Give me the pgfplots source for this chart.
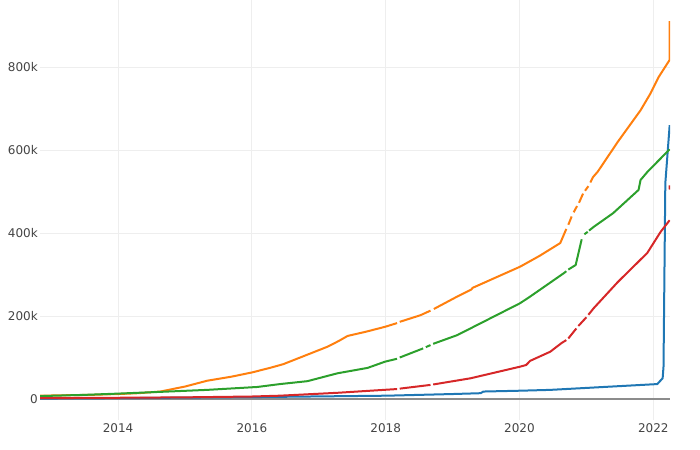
\documentclass[border=0pt]{standalone}
\usepackage{fontspec}
\setmainfont{DejaVu Sans}
\usepackage{pgfplots}
\pgfplotsset{compat=1.18}
\definecolor{pblue}{HTML}{1F77B4}
\definecolor{porange}{HTML}{FF7F0E}
\definecolor{pgreen}{HTML}{2CA02C}
\definecolor{pred}{HTML}{D62728}
\definecolor{gridc}{HTML}{EEEEEE}
\definecolor{zeroc}{HTML}{8C8C8C}
\definecolor{labelc}{HTML}{444444}
\begin{document}
\begin{tikzpicture}
\path[use as bounding box] (0,0) rectangle (700bp,450bp);
\begin{axis}[
  at={(40bp,30bp)}, anchor=south west,
  scale only axis, width=630bp, height=420bp,
  xmin=2012.833, xmax=2022.25, ymin=-50.6, ymax=961.8,
  axis line style={draw=none},
  major tick length=0pt,
  grid=major, major grid style={draw=gridc, line width=1bp},
  xtick={2014,2016,2018,2020,2022}, xticklabels={2014,2016,2018,2020,2022},
  ytick={0,200,400,600,800}, yticklabels={0,200k,400k,600k,800k},
  ticklabel style={font=\fontsize{12bp}{14bp}\selectfont, text=labelc, inner sep=0pt},
  xticklabel style={anchor=north, yshift=-3bp},
  yticklabel style={anchor=east, xshift=-2bp},
  unbounded coords=jump,
  every axis plot/.append style={line width=2bp, line join=round, mark=none},
]
\addplot[zeroc, line width=1.5bp] coordinates {(2012.833,0) (2022.25,0)};
% blue
\addplot[pblue] coordinates {
(2012.833,1) (2014.0,2) (2016.27,5) (2018.02,8) (2019.0,12) (2019.42,14) (2019.46,18)
(2020.01,20) (2020.46,22) (2022.06,36) (2022.14,50) (2022.153,78) (2022.18,520) (2022.245,660)
};
% orange
\addplot[porange] coordinates {
(2012.833,8) (2013.2,9) (2013.6,10) (2014.0,12) (2014.3,14) (2014.63,18) (2015.0,30)
(2015.33,44) (2015.7,54) (2016.0,64) (2016.27,75) (2016.47,84) (2016.8,105) (2017.13,126)
(2017.3,140) (2017.43,152) (2017.7,162) (2017.99,174) (2018.17,183) (2018.19,nan)
(2018.21,186) (2018.52,202) (2018.67,213) (2018.69,nan) (2018.72,217) (2019.07,247)
(2019.28,264) (2019.3,268) (2020.01,319) (2020.3,345) (2020.61,376) (2020.70,410) (2020.715,nan)
(2020.73,420) (2020.78,440) (2020.795,nan) (2020.81,450) (2020.86,465) (2020.875,nan)
(2020.89,473) (2020.95,495) (2020.965,nan) (2020.98,502) (2021.03,513) (2021.045,nan)
(2021.06,522) (2021.10,535) (2021.17,548) (2021.47,620) (2021.81,696) (2021.96,737)
(2022.08,776) (2022.243,817) (2022.245,911)
};
% green
\addplot[pgreen] coordinates {
(2012.833,7) (2013.5,10) (2014.0,13) (2014.6,17) (2015.33,22) (2016.08,29) (2016.42,36)
(2016.83,43) (2017.28,62) (2017.73,75) (2017.99,90) (2018.17,97) (2018.19,nan) (2018.21,100)
(2018.56,122) (2018.58,nan) (2018.60,125) (2018.67,130) (2018.69,nan) (2018.71,133)
(2019.07,154) (2020.01,231) (2020.16,247) (2020.66,303) (2020.70,308) (2020.715,nan)
(2020.73,312) (2020.84,323) (2020.93,385) (2020.95,nan) (2020.97,397) (2021.02,403)
(2021.03,nan) (2021.04,406) (2021.11,415) (2021.40,448) (2021.78,504) (2021.81,528)
(2021.91,547) (2022.245,602)
};
% red
\addplot[pred] coordinates {
(2012.833,2) (2014.0,3) (2015.0,4) (2016.0,6) (2016.42,8) (2017.28,15) (2018.17,24)
(2018.19,nan) (2018.21,25) (2018.67,34) (2018.69,nan) (2018.71,35) (2019.27,50) (2020.01,78)
(2020.10,82) (2020.16,92) (2020.46,114) (2020.63,135) (2020.70,142) (2020.715,nan)
(2020.73,146) (2020.85,170) (2020.865,nan) (2020.88,176) (2021.00,197) (2021.015,nan)
(2021.03,203) (2021.11,219) (2021.47,282) (2021.91,352) (2022.11,403) (2022.245,431)
(2022.246,nan) (2022.244,505) (2022.245,515)
};
\end{axis}
\end{tikzpicture}
\end{document}
